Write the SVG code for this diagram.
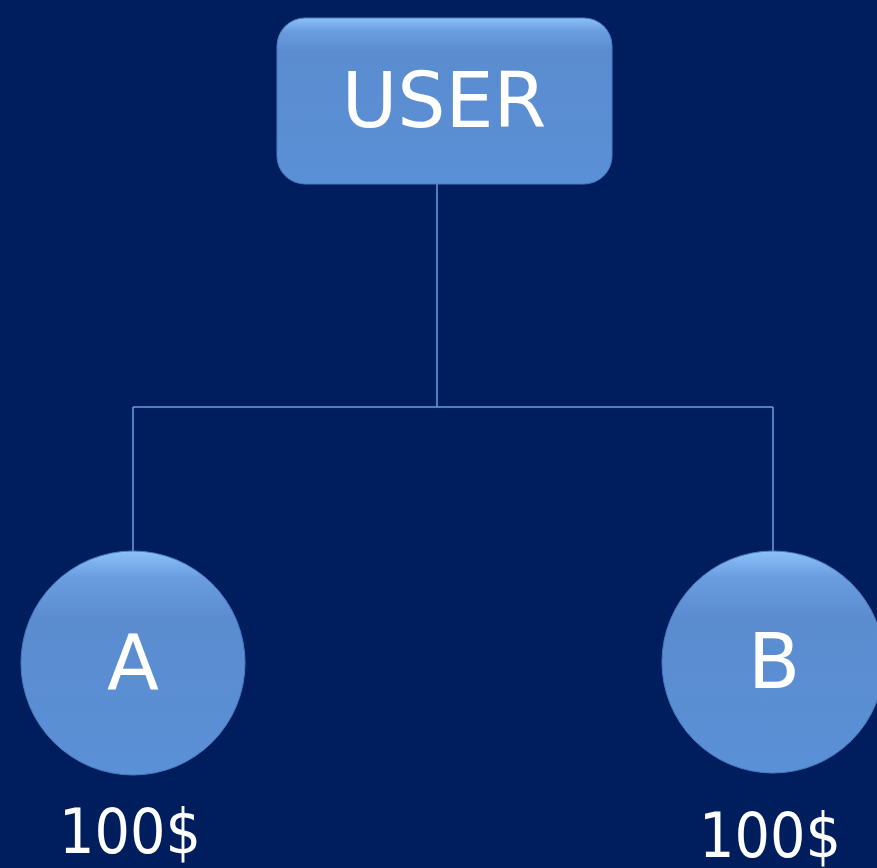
<svg xmlns="http://www.w3.org/2000/svg" width="877" height="868" viewBox="0 0 877 868">
<defs>
<linearGradient id="g" x1="0" y1="0" x2="0" y2="1">
<stop offset="0" stop-color="#8cc0f8"/>
<stop offset="0.08" stop-color="#6a9de0"/>
<stop offset="0.2" stop-color="#5b8cd0"/>
<stop offset="1" stop-color="#5a90d6"/>
</linearGradient>
<linearGradient id="gc" x1="0" y1="0" x2="0" y2="1">
<stop offset="0" stop-color="#8cc0f8"/>
<stop offset="0.12" stop-color="#6a9de0"/>
<stop offset="0.3" stop-color="#5b8cd0"/>
<stop offset="1" stop-color="#5a90d6"/>
</linearGradient>
</defs>
<style>
.node{fill:url(#g);stroke:#4a7cc0;stroke-width:1}
.circ{fill:url(#gc);stroke:#4a7cc0;stroke-width:1}
.lbl{font-family:"DejaVu Sans",Verdana,sans-serif;fill:#ffffff;text-anchor:middle}
.amt{font-family:"DejaVu Sans Condensed","DejaVu Sans",sans-serif;fill:#ffffff;text-anchor:middle;font-size:62px}
.conn{fill:none;stroke:#6a9ee0;stroke-width:1.5}
</style>
<rect width="877" height="868" fill="#001e5e"/>
<g id="connectors">
<path class="conn" d="M437 184 V407"/>
<path class="conn" d="M133 407 H773"/>
<path class="conn" d="M133 407 V551"/>
<path class="conn" d="M773 407 V551"/>
</g>
<g id="user">
<rect class="node" x="277" y="18" width="335" height="166" rx="28"/>
<text class="lbl" x="444" y="127" font-size="76">USER</text>
</g>
<g id="a">
<circle class="circ" cx="133" cy="663" r="112"/>
<text class="lbl" x="133" y="689" font-size="76">A</text>
</g>
<g id="b">
<circle class="circ" cx="773" cy="662" r="111"/>
<text class="lbl" x="774" y="688" font-size="76">B</text>
</g>
<g id="amtA">
<text class="amt" x="130" y="853">100$</text>
</g>
<g id="amtB">
<text class="amt" x="770" y="857">100$</text>
</g>
</svg>
